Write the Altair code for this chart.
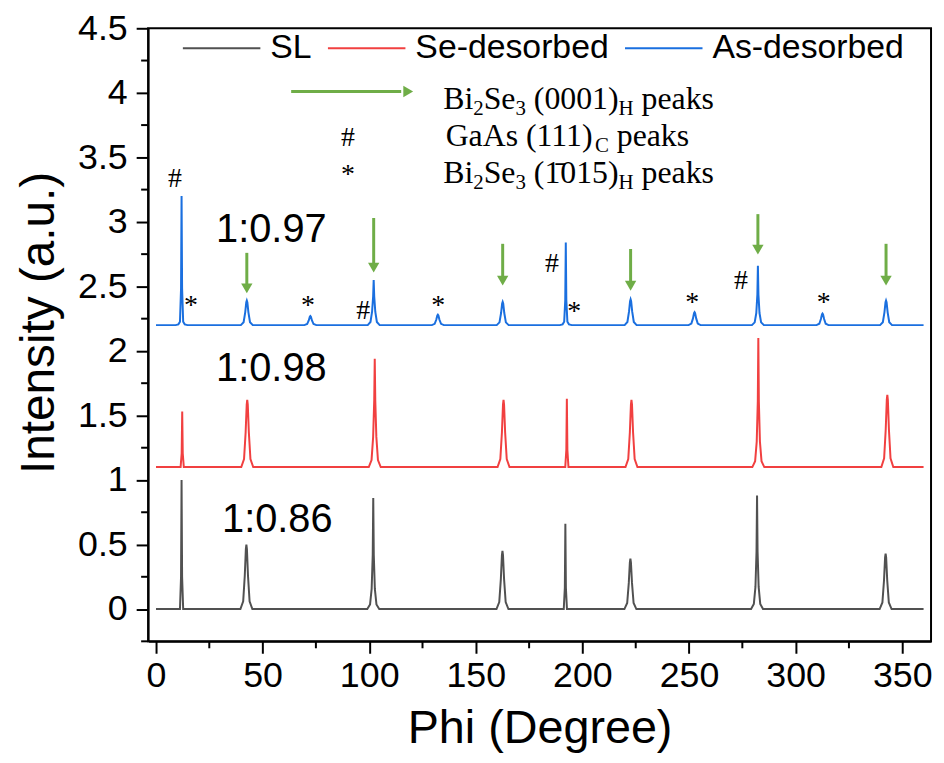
import altair as alt
import pandas as pd

# ------------------------------------------------------------------ data
SERIES = ["SL", "Se-desorbed", "As-desorbed"]
COLORS = ["#515151", "#F14040", "#1A6FDF"]
BASELINES = [0.0, 1.1, 2.2]          # vertical stacking offsets of the curves
PHI_START, PHI_END = 0.0, 360.0

# peak centre (deg), total normalised height, height of the broad component
SL_PEAK_PHI    = [12.0, 42.4, 101.9, 162.5, 192.0, 222.5, 281.9, 342.2]
SL_PEAK_HEIGHT = [1.00, 0.50, 0.86, 0.45, 0.66, 0.39, 0.88, 0.43]
SL_PEAK_BROAD  = [0.00, 0.50, 0.30, 0.45, 0.00, 0.39, 0.33, 0.43]

SE_PEAK_PHI    = [12.3, 42.8, 102.6, 163.0, 192.7, 223.0, 282.5, 343.0]
SE_PEAK_HEIGHT = [0.43, 0.52, 0.84, 0.52, 0.53, 0.52, 1.00, 0.56]
SE_PEAK_BROAD  = [0.00, 0.52, 0.45, 0.52, 0.00, 0.52, 0.38, 0.56]

AS_PEAK_PHI    = [12.0, 42.6, 72.4, 102.1, 132.2, 162.6, 192.2, 222.6, 252.6, 282.3, 312.6, 342.4]
AS_PEAK_HEIGHT = [1.00, 0.19, 0.07, 0.35, 0.08, 0.18, 0.64, 0.20, 0.10, 0.46, 0.09, 0.19]
AS_PEAK_BROAD  = [0.05, 0.19, 0.07, 0.20, 0.08, 0.18, 0.05, 0.20, 0.10, 0.18, 0.09, 0.19]

# peak profile: offset from centre (deg) and fraction of height
PROFILE_DPHI  = [-2.8, -1.5, -0.75, -0.25, 0.0, 0.25, 0.75, 1.5, 2.8]
BROAD_PROFILE = [0.0, 0.12, 0.52, 0.93, 1.0, 0.93, 0.52, 0.12, 0.0]
SHARP_PROFILE = [0.0, 0.0, 0.0, 0.25, 1.0, 0.25, 0.0, 0.0, 0.0]

# green arrows above the Bi2Se3 (0001) peaks of the As-desorbed curve
ARROW_PHI = [42.6, 102.1, 162.6, 222.6, 282.3, 342.4]
ARROW_TOP = [2.76, 3.03, 2.83, 2.79, 3.06, 2.83]
ARROW_TIP = [2.44, 2.60, 2.50, 2.46, 2.74, 2.50]

# peak markers on the As-desorbed curve
MARK_TEXT = ["#", "*", "*", "#", "*", "#", "*", "*", "#", "*"]
MARK_PHI  = [8.9, 16.4, 71.3, 97.2, 132.4, 185.7, 196.2, 251.5, 274.3, 313.2]
MARK_INT  = [3.33, 2.35, 2.35, 2.31, 2.35, 2.67, 2.30, 2.37, 2.54, 2.37]

# ratio labels
RATIO_TEXT = ["1:0.86", "1:0.98", "1:0.97"]
RATIO_PHI  = [56.9, 54.1, 54.1]
RATIO_INT  = [0.69, 1.86, 2.935]

# key of the annotations (top)
KEY_ARROW_PHI = [63.4, 115.0]
KEY_ARROW_INT = 4.01
KEY_SYMBOL_TEXT = ["#", "*"]
KEY_SYMBOL_PHI = 90.0
KEY_SYMBOL_INT = [3.648, 3.364]
KEY_ROW_PHI = 134.7
KEY_ROW_INT = [3.871, 3.587, 3.303]

X_DOMAIN = [-3.7, 363.5]
Y_DOMAIN = [-0.25, 4.5]
X_TICKS = [0, 50, 100, 150, 200, 250, 300, 350]
X_MINOR = [25, 75, 125, 175, 225, 275, 325]
Y_TICKS = [0, 0.5, 1, 1.5, 2, 2.5, 3, 3.5, 4, 4.5]
Y_MINOR = [-0.25, 0.25, 0.75, 1.25, 1.75, 2.25, 2.75, 3.25, 3.75, 4.25]

GREEN = "#6FAD47"
SANS = "Liberation Sans"
SERIF = "Liberation Serif"
PLOT_H = 617

# ------------------------------------------------------------------ tables
def build(name, base, phis, heights, broads):
    rows = [(PHI_START, base)]
    for p, h, b in zip(phis, heights, broads):
        s = h - b
        for d, fb, fs in zip(PROFILE_DPHI, BROAD_PROFILE, SHARP_PROFILE):
            rows.append((p + d, base + b * fb + s * fs))
    rows.append((PHI_END, base))
    return [{"series": name, "phi": x, "intensity": y, "idx": i} for i, (x, y) in enumerate(rows)]

curve = pd.DataFrame(
    build(SERIES[0], BASELINES[0], SL_PEAK_PHI, SL_PEAK_HEIGHT, SL_PEAK_BROAD)
    + build(SERIES[1], BASELINES[1], SE_PEAK_PHI, SE_PEAK_HEIGHT, SE_PEAK_BROAD)
    + build(SERIES[2], BASELINES[2], AS_PEAK_PHI, AS_PEAK_HEIGHT, AS_PEAK_BROAD)
)

arrows = pd.DataFrame({"phi": ARROW_PHI, "intensity": ARROW_TOP, "tip": ARROW_TIP})
arrows["shaft_end"] = arrows["tip"] + 0.07
arrows["head"] = arrows["tip"] + 0.045

marks = pd.DataFrame({"phi": MARK_PHI, "intensity": MARK_INT, "text": MARK_TEXT})
ratios = pd.DataFrame({"phi": RATIO_PHI, "intensity": RATIO_INT, "text": RATIO_TEXT})
key_arrow = pd.DataFrame({"phi": [KEY_ARROW_PHI[0]], "phi2": [KEY_ARROW_PHI[1]],
                          "intensity": [KEY_ARROW_INT], "head": [KEY_ARROW_PHI[1] + 3.3]})
key_sym = pd.DataFrame({"phi": [KEY_SYMBOL_PHI] * 2, "intensity": KEY_SYMBOL_INT, "text": KEY_SYMBOL_TEXT})
x_minor = pd.DataFrame({"phi": X_MINOR})
y_minor = pd.DataFrame({"intensity": Y_MINOR})

xs = alt.Scale(domain=X_DOMAIN, nice=False, zero=False)
ys = alt.Scale(domain=Y_DOMAIN, nice=False, zero=False)

X = lambda f="phi": alt.X(f"{f}:Q", scale=xs)
Y = lambda f="intensity": alt.Y(f"{f}:Q", scale=ys)

lines = alt.Chart(curve).mark_line(strokeWidth=2, clip=True).encode(
    x=alt.X("phi:Q", scale=xs, axis=alt.Axis(
        title="Phi (Degree)", values=X_TICKS, format="d", tickSize=12, labelPadding=5,
        labelFontSize=36, titleFontSize=47, titleY=102, titleBaseline="alphabetic")),
    y=alt.Y("intensity:Q", scale=ys, axis=alt.Axis(
        title="Intensity (a.u.)", values=Y_TICKS, format="~g", tickSize=12, labelPadding=9,
        labelFontSize=36, titleFontSize=48, titleX=-109, titleY=296, titleBaseline="middle")),
    color=alt.Color("series:N", scale=alt.Scale(domain=SERIES, range=COLORS),
                    legend=alt.Legend(title=None, orient="none", legendX=34, legendY=-20,
                                      direction="horizontal", symbolType="stroke",
                                      symbolSize=6084, symbolStrokeWidth=2, labelFontSize=34,
                                      labelFont=SANS, labelOffset=9, columnPadding=12,
                                      labelLimit=400, labelColor="black")),
    order="idx:Q",
)

xminor = alt.Chart(x_minor).mark_rule(color="black", strokeWidth=2).encode(
    x=X(), y=alt.value(PLOT_H), y2=alt.value(PLOT_H + 7))
yminor = alt.Chart(y_minor).mark_rule(color="black", strokeWidth=2).encode(
    y=Y(), x=alt.value(0), x2=alt.value(-7))

shafts = alt.Chart(arrows).mark_rule(color=GREEN, strokeWidth=3).encode(
    x=X(), y=Y(), y2="shaft_end:Q")
heads = alt.Chart(arrows).mark_point(shape="triangle-down", filled=True, color=GREEN,
                                     size=130, opacity=1).encode(x=X(), y=Y("head"))

key_shaft = alt.Chart(key_arrow).mark_rule(color=GREEN, strokeWidth=3).encode(
    x=X(), x2="phi2:Q", y=Y())
key_head = alt.Chart(key_arrow).mark_point(shape="triangle-right", filled=True, color=GREEN,
                                           size=130, opacity=1).encode(x=X("head"), y=Y())

mark_text = alt.Chart(marks).mark_text(font=SERIF, fontSize=28, color="black",
                                       baseline="middle").encode(x=X(), y=Y(), text="text:N")
ratio_text = alt.Chart(ratios).mark_text(font=SANS, fontSize=40, color="black",
                                         baseline="middle").encode(x=X(), y=Y(), text="text:N")
key_sym_text = alt.Chart(key_sym).mark_text(font=SERIF, fontSize=28, color="black",
                                            baseline="middle").encode(x=X(), y=Y(), text="text:N")

# rich-text key rows: (row, text, dx, dy, fontsize)
PIECES = [
    (0, "Bi", 0, 0, 32), (0, "2", 30.2, 6, 21), (0, "Se", 40.7, 0, 32), (0, "3", 72.7, 6, 21),
    (0, "(0001)", 91.2, 0, 32), (0, "H", 176.5, 6, 21), (0, "peaks", 199.7, 0, 32),
    (1, "GaAs (111)", 2.5, 0, 32), (1, "C", 152.7, 6, 21), (1, "peaks", 174.7, 0, 32),
    (2, "Bi", 0, 0, 32), (2, "2", 30.2, 6, 21), (2, "Se", 40.7, 0, 32), (2, "3", 72.7, 6, 21),
    (2, "(1\u0304015)", 91.2, 0, 32), (2, "H", 176.5, 6, 21), (2, "peaks", 199.7, 0, 32),
]
key_layers = []
for row, txt, dx, dy, fs in PIECES:
    anchor = pd.DataFrame({"phi": [KEY_ROW_PHI], "intensity": [KEY_ROW_INT[row]]})
    key_layers.append(
        alt.Chart(anchor).mark_text(text=txt, font=SERIF, fontSize=fs, color="black",
                                    align="left", baseline="alphabetic", dx=dx, dy=dy)
        .encode(x=X(), y=Y())
    )

chart = alt.layer(
    lines, xminor, yminor, shafts, heads, key_shaft, key_head,
    mark_text, ratio_text, key_sym_text, *key_layers
).properties(
    width=788, height=PLOT_H,
    padding={"left": 141, "top": 18, "right": 5, "bottom": 112},
    autosize=alt.AutoSizeParams(type="none"),
).configure_view(
    stroke="black", strokeWidth=2
).configure_axis(
    domainColor="black", domainWidth=2, tickColor="black", tickWidth=2,
    labelColor="black", titleColor="black", labelFont=SANS, titleFont=SANS,
    titleFontWeight="normal", grid=False
)

chart.save("out.html", embed_options={"renderer": "svg", "actions": False})
